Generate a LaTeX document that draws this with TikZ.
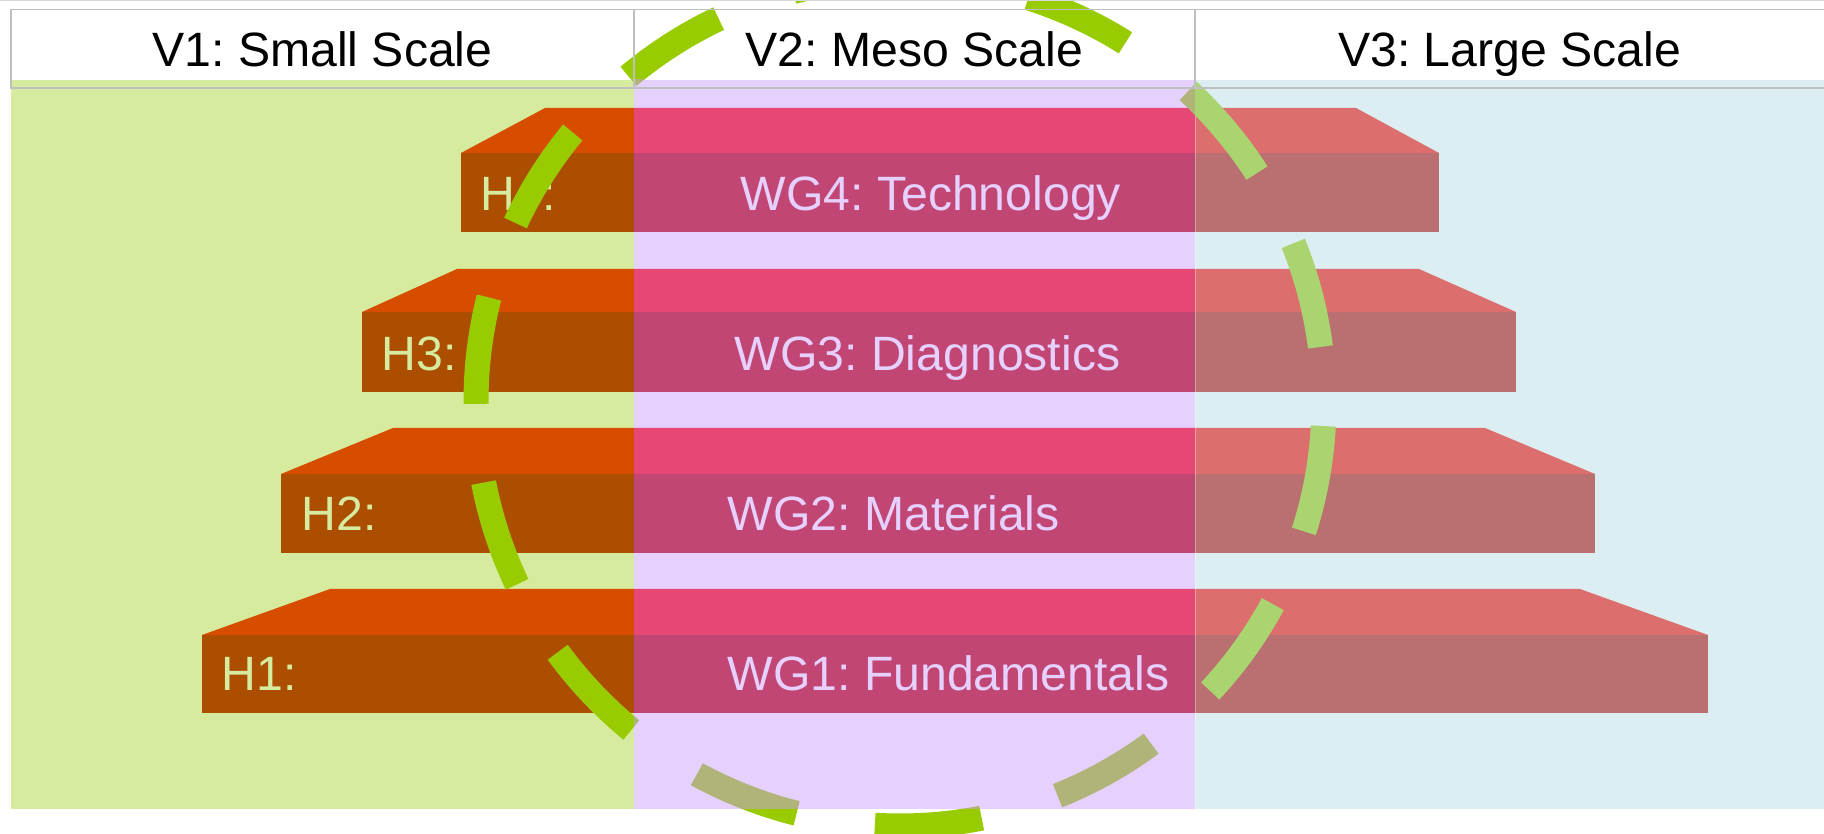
\documentclass[tikz,border=0pt]{standalone}
\usepackage{fontspec}
\setmainfont{Liberation Sans}
\frenchspacing

\definecolor{smallbg}{HTML}{D7EB9E}
\definecolor{mesobg}{HTML}{E6D0FD}
\definecolor{largebg}{HTML}{DCEEF1}
\definecolor{smalltop}{HTML}{D64D00}
\definecolor{smallfront}{HTML}{AB4E00}
\definecolor{mesotop}{HTML}{E74775}
\definecolor{mesofront}{HTML}{C24673}
\definecolor{largetop}{HTML}{DD6E6E}
\definecolor{largefront}{HTML}{BA6F70}
\definecolor{ringgreen}{HTML}{99CC00}
\definecolor{ringolive}{HTML}{B0B478}
\definecolor{ringpale}{HTML}{A9D46F}
\definecolor{hdrgray}{HTML}{BFBFBF}
\definecolor{htext}{HTML}{D7EB9E}
\definecolor{wgtext}{HTML}{E6D0FD}

\tikzset{
  lbl/.style={font=\fontsize{13.7}{16}\selectfont, inner sep=0pt},
  scalehead/.style={lbl, anchor=base, text=black},
  hlabel/.style={lbl, anchor=base west, text=htext},
  wglabel/.style={lbl, anchor=base west, text=wgtext},
  ring/.style={line width=0.25cm, dash pattern=on 1.073cm off 0.792cm},
  gridline/.style={draw=hdrgray, line width=0.015cm},
}

% one slab: top-left x, top-right x, top y, front left x, front right x, front top y, bottom y
\newcommand{\slab}[7]{%
  \fill[slabtop] (#1,#3) -- (#2,#3) -- (#5,#6) -- (#4,#6) -- cycle;
  \fill[slabfront] (#4,#6) rectangle (#5,#7);}
\newcommand{\slabs}{%
  \slab{545}{1356}{108}{461}{1439}{153}{232}% WG4
  \slab{457}{1419}{269}{362}{1516}{312}{392}% WG3
  \slab{393}{1485}{428}{281}{1595}{474}{553}% WG2
  \slab{330}{1580}{589}{202}{1708}{635}{713}}% WG1

\begin{document}
\begin{tikzpicture}[x=0.01cm, y=-0.01cm]
  \useasboundingbox (0,0) rectangle (1824,834);

  % column backgrounds
  \fill[smallbg] (11,80) rectangle (634,809);
  \fill[mesobg] (634,80) rectangle (1195,809);
  \fill[largebg] (1195,80) rectangle (1824,809);

  % slabs, coloured per column
  \begin{scope}[slabtop/.style={fill=smalltop}, slabfront/.style={fill=smallfront}]
    \clip (0,0) rectangle (634,834);
    \slabs
  \end{scope}
  \begin{scope}[slabtop/.style={fill=mesotop}, slabfront/.style={fill=mesofront}]
    \clip (634,0) rectangle (1195,834);
    \slabs
  \end{scope}
  \begin{scope}[slabtop/.style={fill=largetop}, slabfront/.style={fill=largefront}]
    \clip (1195,0) rectangle (1824,834);
    \slabs
  \end{scope}
  \draw[white, opacity=0.35, line width=0.01cm] (1195,80) -- (1195,809);

  % slab labels
  \node[hlabel] (h4) at (480,211) {H4:};
  \node[hlabel] (h3) at (381,371) {H3:};
  \node[hlabel] (h2) at (301,531) {H2:};
  \node[hlabel] (h1) at (221,691) {H1:};
  \node[wglabel] (wg4) at (740,211) {WG4: Technology};
  \node[wglabel] (wg3) at (734,371) {WG3: Diagnostics};
  \node[wglabel] (wg2) at (727,531) {WG2: Materials};
  \node[wglabel] (wg1) at (727,691) {WG1: Fundamentals};

  % dashed ring
  \coordinate (ringc) at (900,402);
  \begin{scope}
    \clip (0,0) rectangle (634,834) (634,0) rectangle (1824,80) (634,809) rectangle (1824,834);
    \draw[ring, draw=ringgreen] (ringc) ++(-90.1:424) arc (-90.1:-450.1:424);
  \end{scope}
  \begin{scope}
    \clip (634,80) rectangle (1195,809);
    \draw[ring, draw=ringolive] (ringc) ++(-90.1:424) arc (-90.1:-450.1:424);
  \end{scope}
  \begin{scope}
    \clip (1195,80) rectangle (1824,809);
    \draw[ring, draw=ringpale] (ringc) ++(-90.1:424) arc (-90.1:-450.1:424);
  \end{scope}

  % header row
  \draw[gridline, draw=hdrgray!60] (0,0.7) -- (1824,0.7);
  \draw[gridline] (1830,9.5) -- (11,9.5) -- (11,88) -- (1830,88);
  \draw[gridline] (634,9.5) -- (634,88);
  \draw[gridline] (1195,9.5) -- (1195,88);
  \node[scalehead] (v1) at (322.5,67) {V1: Small Scale};
  \node[scalehead] (v2) at (914.5,67) {V2: Meso Scale};
  \node[scalehead] (v3) at (1509.5,67) {V3: Large Scale};
\end{tikzpicture}
\end{document}
